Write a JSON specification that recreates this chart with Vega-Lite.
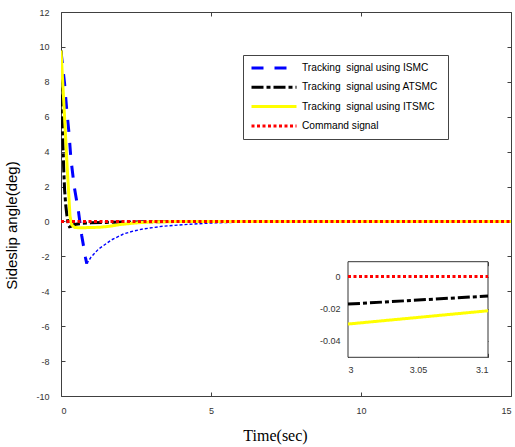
{
  "$schema": "https://vega.github.io/schema/vega-lite/v6.json",
  "width": 450,
  "height": 384,
  "autosize": "none",
  "padding": {"left": 61, "top": 12, "right": 4, "bottom": 51},
  "background": "white",
  "config": {
    "view": {"stroke": "#404040", "strokeWidth": 1},
    "axis": {
      "grid": false,
      "labelFont": "Liberation Sans",
      "labelFontSize": 9,
      "labelColor": "#333333",
      "tickColor": "#404040",
      "domainColor": "#404040",
      "tickSize": -4,
      "labelPadding": 16,
      "labelExpr": "'' + datum.value"
    }
  },
  "datasets": {
    "curves": [
      {"series": "Tracking  signal using ISMC", "t": 0, "v": 9.75},
      {"series": "Tracking  signal using ISMC", "t": 0.12, "v": 7.9},
      {"series": "Tracking  signal using ISMC", "t": 0.19, "v": 6.4},
      {"series": "Tracking  signal using ISMC", "t": 0.27, "v": 5.0},
      {"series": "Tracking  signal using ISMC", "t": 0.33, "v": 3.6},
      {"series": "Tracking  signal using ISMC", "t": 0.44, "v": 2.0},
      {"series": "Tracking  signal using ISMC", "t": 0.58, "v": 0.6},
      {"series": "Tracking  signal using ISMC", "t": 0.69, "v": -0.8},
      {"series": "Tracking  signal using ISMC", "t": 0.82, "v": -2.1},
      {"series": "Tracking  signal using ISMC", "t": 0.86, "v": -2.42},

      {"series": "Tracking  signal using ATSMC", "t": 0, "v": 9.8},
      {"series": "Tracking  signal using ATSMC", "t": 0.03, "v": 7.0},
      {"series": "Tracking  signal using ATSMC", "t": 0.06, "v": 4.8},
      {"series": "Tracking  signal using ATSMC", "t": 0.09, "v": 3.0},
      {"series": "Tracking  signal using ATSMC", "t": 0.12, "v": 1.8},
      {"series": "Tracking  signal using ATSMC", "t": 0.16, "v": 0.9},
      {"series": "Tracking  signal using ATSMC", "t": 0.2, "v": 0.3},
      {"series": "Tracking  signal using ATSMC", "t": 0.24, "v": -0.2},
      {"series": "Tracking  signal using ATSMC", "t": 0.28, "v": -0.3},
      {"series": "Tracking  signal using ATSMC", "t": 0.33, "v": -0.28},
      {"series": "Tracking  signal using ATSMC", "t": 0.4, "v": -0.2},
      {"series": "Tracking  signal using ATSMC", "t": 0.5, "v": -0.16},
      {"series": "Tracking  signal using ATSMC", "t": 0.7, "v": -0.11},
      {"series": "Tracking  signal using ATSMC", "t": 1.0, "v": -0.08},
      {"series": "Tracking  signal using ATSMC", "t": 1.5, "v": -0.055},
      {"series": "Tracking  signal using ATSMC", "t": 2.0, "v": -0.038},
      {"series": "Tracking  signal using ATSMC", "t": 2.5, "v": -0.026},
      {"series": "Tracking  signal using ATSMC", "t": 3.0, "v": -0.0172},
      {"series": "Tracking  signal using ATSMC", "t": 3.1, "v": -0.0122},
      {"series": "Tracking  signal using ATSMC", "t": 4.0, "v": -0.006},
      {"series": "Tracking  signal using ATSMC", "t": 5.0, "v": -0.003},
      {"series": "Tracking  signal using ATSMC", "t": 7.0, "v": -0.001},
      {"series": "Tracking  signal using ATSMC", "t": 15, "v": 0},

      {"series": "Tracking  signal using ITSMC", "t": 0, "v": 9.8},
      {"series": "Tracking  signal using ITSMC", "t": 0.1, "v": 6.6},
      {"series": "Tracking  signal using ITSMC", "t": 0.2, "v": 3.3},
      {"series": "Tracking  signal using ITSMC", "t": 0.3, "v": 0.3},
      {"series": "Tracking  signal using ITSMC", "t": 0.36, "v": -0.2},
      {"series": "Tracking  signal using ITSMC", "t": 0.45, "v": -0.34},
      {"series": "Tracking  signal using ITSMC", "t": 0.6, "v": -0.36},
      {"series": "Tracking  signal using ITSMC", "t": 1.0, "v": -0.35},
      {"series": "Tracking  signal using ITSMC", "t": 1.3, "v": -0.33},
      {"series": "Tracking  signal using ITSMC", "t": 1.6, "v": -0.28},
      {"series": "Tracking  signal using ITSMC", "t": 2.0, "v": -0.17},
      {"series": "Tracking  signal using ITSMC", "t": 2.4, "v": -0.1},
      {"series": "Tracking  signal using ITSMC", "t": 2.7, "v": -0.06},
      {"series": "Tracking  signal using ITSMC", "t": 3.0, "v": -0.0297},
      {"series": "Tracking  signal using ITSMC", "t": 3.1, "v": -0.0214},
      {"series": "Tracking  signal using ITSMC", "t": 3.5, "v": -0.012},
      {"series": "Tracking  signal using ITSMC", "t": 4.0, "v": -0.007},
      {"series": "Tracking  signal using ITSMC", "t": 5.0, "v": -0.003},
      {"series": "Tracking  signal using ITSMC", "t": 7.0, "v": -0.001},
      {"series": "Tracking  signal using ITSMC", "t": 15, "v": 0},

      {"series": "Command signal", "t": 0, "v": 0},
      {"series": "Command signal", "t": 3.0, "v": 0},
      {"series": "Command signal", "t": 3.1, "v": 0},
      {"series": "Command signal", "t": 15, "v": 0}
    ],
    "ismc_tail": [
      {"t": 0.86, "v": -2.42},
      {"t": 1.0, "v": -2.05},
      {"t": 1.24, "v": -1.6},
      {"t": 1.69, "v": -1.05},
      {"t": 2.08, "v": -0.72},
      {"t": 2.41, "v": -0.55},
      {"t": 2.74, "v": -0.43},
      {"t": 3.41, "v": -0.27},
      {"t": 4.3, "v": -0.16},
      {"t": 5.1, "v": -0.08},
      {"t": 6.0, "v": -0.04},
      {"t": 7.0, "v": -0.02},
      {"t": 8.0, "v": -0.01},
      {"t": 10.0, "v": -0.003},
      {"t": 15, "v": 0}
    ]
  },
  "data": {"name": "curves"},
  "layer": [
    {
      "layer": [
        {
          "data": {"name": "ismc_tail"},
          "mark": {"type": "line", "color": "#0000ff", "strokeWidth": 1.4, "strokeDash": [3, 2], "clip": true},
          "encoding": {
            "x": {
              "field": "t", "type": "quantitative",
              "axis": {"orient": "top", "values": [0, 5, 10, 15], "labels": false, "title": null, "domain": false}
            },
            "y": {
              "field": "v", "type": "quantitative",
              "axis": {"orient": "right", "values": [-10, -8, -6, -4, -2, 0, 2, 4, 6, 8, 10, 12], "labels": false, "title": null, "domain": false}
            }
          }
        },
        {
          "mark": {"type": "line", "strokeCap": "butt", "clip": true},
          "encoding": {
            "x": {
              "field": "t", "type": "quantitative",
              "scale": {"domain": [0, 15], "nice": false, "zero": false},
              "axis": {
                "orient": "bottom", "values": [0, 5, 10, 15], "domain": false, "labelPadding": 14,
                "title": "Time(sec)", "titleFont": "Liberation Serif", "titleFontSize": 16,
                "titleFontWeight": "normal", "titleColor": "black",
                "titleX": 214, "titleY": 39, "titleBaseline": "middle"
              }
            },
            "y": {
              "field": "v", "type": "quantitative",
              "scale": {"domain": [-10, 12], "nice": false, "zero": false},
              "axis": {
                "orient": "left", "values": [-10, -8, -6, -4, -2, 0, 2, 4, 6, 8, 10, 12], "domain": false,
                "title": "Sideslip angle(deg)", "titleFont": "Liberation Sans", "titleFontSize": 15,
                "titleFontWeight": "normal", "titleColor": "black",
                "titleX": -49.5, "titleY": 213, "titleAngle": -90, "titleBaseline": "middle", "titleAlign": "center"
              }
            },
            "color": {
              "field": "series", "type": "nominal",
              "scale": {
                "domain": ["Tracking  signal using ISMC", "Tracking  signal using ATSMC", "Tracking  signal using ITSMC", "Command signal"],
                "range": ["#0000ff", "#000000", "#ffff00", "#ff0000"]
              },
              "legend": {
                "title": null, "orient": "none", "legendX": 182, "legendY": 43,
                "strokeColor": "#444444", "fillColor": "white", "padding": 7,
                "symbolType": "stroke", "symbolSize": 2025, "clipHeight": 12, "rowPadding": 7.3,
                "labelOffset": 4, "labelFont": "Liberation Sans", "labelFontSize": 10.2, "labelColor": "black",
                "labelExpr": "replace(datum.label, 'Tracking ', 'Tracking\u00a0 ')"
              }
            },
            "strokeDash": {
              "field": "series", "type": "nominal",
              "scale": {
                "domain": ["Tracking  signal using ISMC", "Tracking  signal using ATSMC", "Tracking  signal using ITSMC", "Command signal"],
                "range": [[12, 11], [12, 3, 4, 3], [1, 0], [3, 2.5]]
              }
            },
            "strokeWidth": {
              "field": "series", "type": "nominal",
              "scale": {
                "domain": ["Tracking  signal using ISMC", "Tracking  signal using ATSMC", "Tracking  signal using ITSMC", "Command signal"],
                "range": [3, 3, 3.5, 3]
              }
            }
          }
        }
      ],
      "resolve": {"axis": {"x": "independent", "y": "independent"}}
    },
    {
      "layer": [
        {
          "data": {"values": [{}]},
          "mark": {"type": "rect", "fill": "white", "stroke": "#333333", "strokeWidth": 1},
          "encoding": {
            "x": {
              "datum": 3, "type": "quantitative",
              "scale": {"domain": [3, 3.1], "range": [287, 427], "nice": false, "zero": false},
              "axis": {"orient": "top", "values": [3, 3.05, 3.1], "labels": false, "title": null, "domain": false, "offset": -249.7}
            },
            "x2": {"datum": 3.1},
            "y": {
              "datum": -0.0505, "type": "quantitative",
              "scale": {"domain": [-0.0505, 0.0093], "range": [345.3, 249.7], "nice": false, "zero": false},
              "axis": {"orient": "right", "values": [0, -0.02, -0.04], "labels": false, "title": null, "domain": false, "offset": -23}
            },
            "y2": {"datum": 0.0093}
          }
        },
        {
          "transform": [{"filter": "datum.t >= 3 && datum.t <= 3.1"}],
          "mark": {"type": "line", "strokeCap": "butt"},
          "encoding": {
            "x": {
              "field": "t", "type": "quantitative",
              "axis": {"orient": "bottom", "values": [3, 3.05, 3.1], "title": null, "domain": false, "offset": -38.7, "labelPadding": 12}
            },
            "y": {
              "field": "v", "type": "quantitative",
              "axis": {"orient": "left", "values": [0, -0.02, -0.04], "title": null, "domain": false, "offset": -287, "labelPadding": 12}
            },
            "color": {"field": "series", "type": "nominal"},
            "strokeDash": {"field": "series", "type": "nominal"},
            "strokeWidth": {"field": "series", "type": "nominal"}
          }
        }
      ],
      "resolve": {"axis": {"x": "independent", "y": "independent"}}
    }
  ],
  "resolve": {
    "scale": {"x": "independent", "y": "independent"},
    "axis": {"x": "independent", "y": "independent"}
  }
}
